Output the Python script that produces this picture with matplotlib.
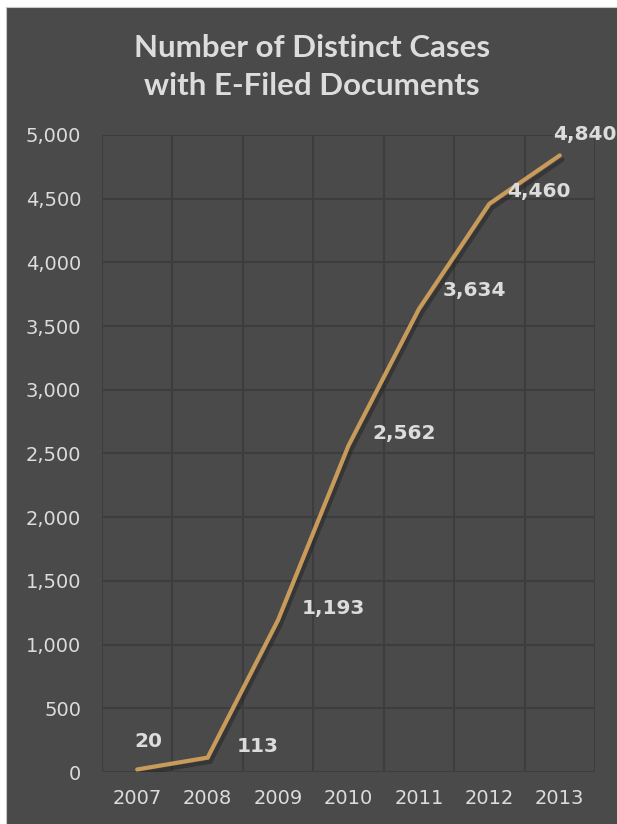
import matplotlib
matplotlib.use("Agg")
import matplotlib.pyplot as plt
import matplotlib.patheffects as pe
from matplotlib.ticker import FuncFormatter, MultipleLocator, FixedLocator

years = ["2007", "2008", "2009", "2010", "2011", "2012", "2013"]
cases = [20, 113, 1193, 2562, 3634, 4460, 4840]
title = "Number of Distinct Cases\nwith E-Filed Documents"

BG = "#4a4a4a"
GRID = "#3d3d3d"
TXT = "#dcdcdc"
LINE = "#c89b5a"

fig = plt.figure(figsize=(6.17, 8.24), dpi=100)
fig.patch.set_facecolor("white")
bg = fig.add_axes([6/617, 0, 1 - 6/617, 1 - 7/824], zorder=0)
bg.set_facecolor(BG)
bg.set_xticks([]); bg.set_yticks([])
for name, s in bg.spines.items():
    if name in ("left", "top"):
        s.set_color("#c8c8c8"); s.set_linewidth(0.8)
    else:
        s.set_visible(False)

ax = fig.add_axes([102/617, 1 - 772/824, (595 - 102)/617, (772 - 135)/824], zorder=1)
ax.set_facecolor(BG)
x = list(range(len(years)))
ax.plot(x, cases, color=LINE, lw=3.0, solid_capstyle="round", solid_joinstyle="miter",
        path_effects=[pe.SimpleLineShadow(offset=(2, -3), shadow_color="#1e1e1e", alpha=0.45),
                      pe.Normal()], zorder=3)

ax.set_xlim(-0.5, 6.5)
ax.set_ylim(0, 5000)
ax.yaxis.set_major_locator(MultipleLocator(500))
ax.yaxis.set_major_formatter(FuncFormatter(lambda v, p: f"{int(v):,}"))
ax.set_xticks(x)
ax.set_xticklabels(years)
ax.xaxis.set_minor_locator(FixedLocator([i - 0.5 for i in range(len(years) + 1)]))
ax.grid(axis="y", which="major", color=GRID, lw=1.5)
ax.grid(axis="x", which="minor", color=GRID, lw=1.5)
for s in ax.spines.values():
    s.set_visible(False)
ax.tick_params(which="both", length=0, colors=TXT, labelsize=14)
ax.tick_params(axis="x", pad=12)
ax.tick_params(axis="y", pad=15)
for lab in ax.get_xticklabels() + ax.get_yticklabels():
    lab.set_family("DejaVu Sans")

offsets = [(8, 20), (36, 8), (40, 8), (40, 9), (40, 13), (36, 9), (18, 15)]
for xi, yi, (dx, dy) in zip(x, cases, offsets):
    ax.annotate(f"{yi:,}", (xi, yi), xytext=(dx, dy), textcoords="offset points",
                ha="center", va="center", color=TXT, fontsize=14.5, fontweight="bold",
                family="DejaVu Sans", zorder=4, annotation_clip=False)

fig.text(312/617, 1 - 67/824, title, ha="center", va="center", color=TXT,
         fontsize=22.5, fontweight="bold", family="Lato", linespacing=1.42)

fig.savefig("out.png", dpi=100, facecolor=fig.get_facecolor())
